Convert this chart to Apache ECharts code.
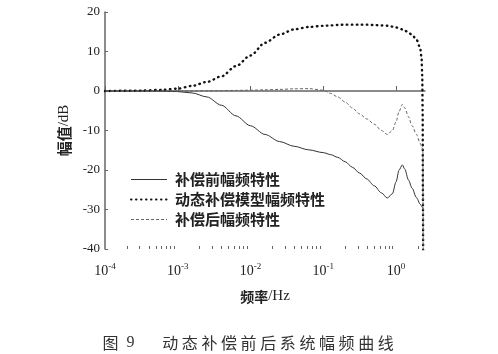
<!DOCTYPE html>
<html>
<head>
<meta charset="utf-8">
<script src="https://cdn.jsdelivr.net/npm/echarts@6/dist/echarts.min.js"></script>
<style>
  html, body { margin: 0; padding: 0; background: #fff; }
  #chartWrapper { width: 498px; height: 354px; }
</style>
</head>
<body>
<div id="chartWrapper"></div>
<script>
// 频率 (Hz)
let freq = [0.0001, 0.000316, 0.000631, 0.001, 0.00158, 0.00251, 0.00398, 0.00631,
    0.01, 0.0158, 0.0251, 0.0398, 0.0631, 0.1, 0.126, 0.158, 0.2, 0.251, 0.316,
    0.398, 0.501, 0.631, 0.759, 0.891, 1.0, 1.10, 1.22, 1.32, 1.48, 1.66, 1.91,
    2.14, 2.24, 2.29, 2.32, 2.34, 2.37];

// 补偿前幅频特性 (dB)
let beforeDb = [0, 0, -0.05, -0.15, -0.5, -1.5, -3.6, -6.3,
    -8.8, -11.0, -12.8, -14.0, -14.9, -15.6, -16.1, -16.8, -17.9, -19.3, -20.8,
    -22.3, -24.0, -25.8, -27.1, -26.0, -23.0, -20.0, -18.7, -19.8, -22.5, -24.6, -27.0,
    -28.6, -29.1, -29.4, -29.5, -29.7, -29.8];

// 动态补偿模型幅频特性 (dB)
let modelDb = [0, 0.1, 0.3, 0.6, 1.3, 2.3, 3.7, 6.3,
    9.0, 12.2, 14.3, 15.6, 16.2, 16.5, 16.6, 16.7, 16.8, 16.8, 16.8,
    16.8, 16.7, 16.6, 16.5, 16.3, 16.1, 15.9, 15.6, 15.3, 14.8, 14.2, 13.0,
    11.0, 8.5, 4.0, -5, -25, -60];

// 补偿后幅频特性 (dB)
let afterDb = [0, 0, 0, 0, 0, 0.05, 0.1, 0.15,
    0.2, 0.3, 0.4, 0.55, 0.6, 0.2, -0.6, -1.5, -2.8, -4.3, -5.8,
    -7.1, -8.4, -10.0, -11.0, -10.0, -7.8, -5.2, -3.4, -4.3, -6.5, -8.8, -11.0,
    -13.2, -14.0, -14.4, -14.7, -15.0, -60];

let seriesNames = ['补偿前幅频特性', '动态补偿模型幅频特性', '补偿后幅频特性'];
let majorTicks = [0.0001, 0.001, 0.01, 0.1, 1];
let minorTicks = [0.0002, 0.0003, 0.0004, 0.0005, 0.0006, 0.0007, 0.0008, 0.0009,
    0.002, 0.003, 0.004, 0.005, 0.006, 0.007, 0.008, 0.009,
    0.02, 0.03, 0.04, 0.05, 0.06, 0.07, 0.08, 0.09,
    0.2, 0.3, 0.4, 0.5, 0.6, 0.7, 0.8, 0.9, 2];
let yTicks = [-40, -30, -20, -10, 0, 10, 20];
let caption = '动态补偿前后系统幅频曲线';

function pairs(values) {
    let out = [];
    for (let i = 0; i < freq.length; i++) {
        out.push([freq[i], values[i]]);
    }
    return out;
}

let myChart = echarts.init(document.getElementById('chartWrapper'));

let serifFont = '"Liberation Serif", "DejaVu Serif", serif';
let cjkFont = '"Noto Sans CJK SC", sans-serif';
let axisColor = '#666';

// 图题: 每个字单独一段, 加一点字距
let captionText = '{f|图}{n|9}' + caption.split('').map(function (ch) {
    return '{c|' + ch + '}';
}).join('');

let option = {
    animation: false,
    backgroundColor: '#fff',
    title: {
        text: captionText,
        left: 'center',
        top: 330,
        textStyle: {
            fontWeight: 'normal',
            rich: {
                f: { fontFamily: cjkFont, fontWeight: 'normal', fontSize: 16, color: '#333', padding: [0, 8, 0, 0] },
                n: { fontFamily: serifFont, fontWeight: 'normal', fontSize: 16, color: '#333', padding: [0, 26, 0, 0] },
                c: { fontFamily: cjkFont, fontWeight: 'normal', fontSize: 16, color: '#333', padding: [0, 1.8] }
            }
        }
    },
    legend: {
        left: 125,
        top: 167,
        orient: 'vertical',
        itemWidth: 36,
        itemHeight: 14,
        itemGap: 5,
        data: [
            { name: seriesNames[0], lineStyle: { width: 1 } },
            { name: seriesNames[1] },
            { name: seriesNames[2], lineStyle: { width: 1 } }
        ],
        itemStyle: { opacity: 0 },
        textStyle: {
            fontFamily: cjkFont,
            fontWeight: 'bold',
            fontSize: 15,
            color: '#222',
            padding: [0, 0, 0, 3]
        }
    },
    grid: {
        left: 105,
        right: 73,
        top: 12,
        bottom: 105
    },
    xAxis: [{
        type: 'log',
        logBase: 10,
        min: 0.0001,
        max: 2.5,
        name: '{a|频率}{b|/Hz}',
        nameLocation: 'middle',
        nameGap: 40,
        nameTextStyle: {
            rich: {
                a: { fontFamily: cjkFont, fontWeight: 'bold', fontSize: 14, color: '#222' },
                b: { fontFamily: serifFont, fontSize: 15, color: '#222' }
            }
        },
        axisLine: { show: true, lineStyle: { color: axisColor, width: 1.5 } },
        axisTick: { show: true, inside: true, length: 5, customValues: majorTicks, lineStyle: { color: axisColor } },
        axisLabel: {
            margin: 13,
            customValues: majorTicks,
            formatter: function (v) {
                let e = Math.round(Math.log10(v));
                return '{b|10}{s|' + e + '}';
            },
            rich: {
                b: { fontFamily: serifFont, fontSize: 14, color: '#222', lineHeight: 16, verticalAlign: 'bottom' },
                s: { fontFamily: serifFont, fontSize: 9, color: '#222', lineHeight: 16, verticalAlign: 'top' }
            }
        },
        splitLine: { show: false }
    }, {
        // 次刻度 2..9
        type: 'log',
        logBase: 10,
        min: 0.0001,
        max: 2.5,
        position: 'bottom',
        axisLine: { show: false },
        axisTick: { show: true, inside: true, length: 3, customValues: minorTicks, lineStyle: { color: axisColor } },
        axisLabel: { show: false },
        splitLine: { show: false }
    }],
    yAxis: {
        type: 'value',
        min: -40,
        max: 20,
        interval: 10,
        name: '{a|幅值}{b|/dB}',
        nameLocation: 'middle',
        nameGap: 29,
        nameTextStyle: {
            rich: {
                a: { fontFamily: cjkFont, fontWeight: 'bold', fontSize: 15, color: '#222' },
                b: { fontFamily: serifFont, fontSize: 15, color: '#222' }
            }
        },
        axisLine: { show: true, lineStyle: { color: axisColor, width: 1.5 } },
        axisTick: { show: true, inside: true, length: 3, customValues: yTicks, lineStyle: { color: axisColor } },
        axisLabel: {
            margin: 5,
            fontFamily: serifFont,
            fontSize: 13,
            color: '#222'
        },
        splitLine: { show: false }
    },
    series: [{
        name: seriesNames[0],
        type: 'line',
        symbol: 'none',
        smooth: 0.3,
        smoothMonotone: 'x',
        lineStyle: { color: '#333', width: 1, type: 'solid' },
        itemStyle: { color: '#333' },
        data: pairs(beforeDb)
    }, {
        name: seriesNames[1],
        type: 'line',
        symbol: 'none',
        smooth: 0.3,
        smoothMonotone: 'x',
        lineStyle: { color: '#111', width: 2.4, type: [0.5, 4.5], cap: 'round' },
        itemStyle: { color: '#111' },
        data: pairs(modelDb)
    }, {
        name: seriesNames[2],
        type: 'line',
        symbol: 'none',
        smooth: 0.3,
        smoothMonotone: 'x',
        lineStyle: { color: '#666', width: 1, type: [3, 2] },
        itemStyle: { color: '#666' },
        data: pairs(afterDb)
    }]
};

myChart.setOption(option);
</script>
</body>
</html>
